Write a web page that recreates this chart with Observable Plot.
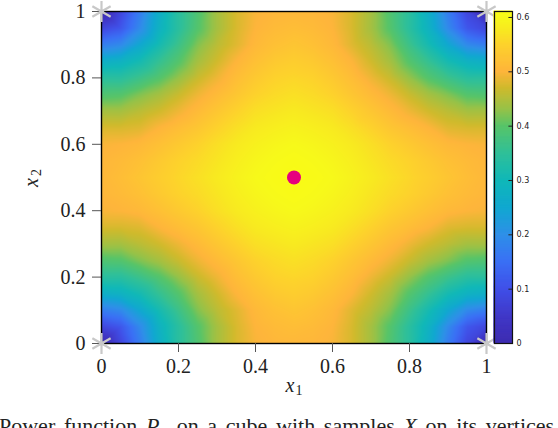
<!DOCTYPE html>
<html>
<head>
<meta charset="utf-8">
<script src="https://cdn.jsdelivr.net/npm/d3@7"></script>
<script src="https://cdn.jsdelivr.net/npm/@observablehq/plot@0.6"></script>
<style>
html,body{margin:0;padding:0;background:#fff;width:558px;height:428px;overflow:hidden}
#wrap{position:relative;width:558px;height:428px;overflow:hidden}
#main,#bar{position:absolute;left:0;top:0}
#caption{position:absolute;left:-1px;top:413px;width:570px;white-space:nowrap;font:22px "Liberation Serif",serif;color:#222;word-spacing:3.2px}
#caption sub{font-size:14px;line-height:0}
</style>
</head>
<body>
<div id="wrap">
<div id="main"></div>
<div id="bar"></div>
<div id="caption">Power function <i>P<sub>X</sub></i> on a cube with samples <i>X</i> on its vertices</div>
</div>
<script>
// Grid positions along each axis (one quadrant, the other three mirror it)
const gridPos = [0,0.05,0.1,0.15,0.2,0.25,0.3,0.35,0.4,0.45,0.5];
const q0  = [0,.08,.17,.27,.34,.39,.44,.475,.497,.503,.505];
const q1  = [.08,.11,.19,.28,.34,.395,.44,.475,.50,.51,.515];
const q2  = [.17,.19,.25,.31,.365,.42,.455,.48,.507,.52,.528];
const q3  = [.27,.28,.31,.355,.395,.44,.47,.50,.52,.535,.542];
const q4  = [.34,.34,.365,.395,.43,.465,.49,.515,.535,.55,.555];
const q5  = [.39,.395,.42,.44,.465,.49,.51,.53,.55,.56,.566];
const q6  = [.44,.44,.455,.47,.49,.51,.53,.55,.565,.572,.578];
const q7  = [.475,.475,.48,.50,.515,.53,.55,.565,.578,.585,.59];
const q8  = [.497,.50,.507,.52,.535,.55,.565,.578,.588,.595,.60];
const q9  = [.503,.51,.52,.535,.55,.56,.572,.585,.595,.602,.607];
const q10 = [.505,.515,.528,.542,.555,.566,.578,.59,.60,.607,.611];
const quadrant = [q0,q1,q2,q3,q4,q5,q6,q7,q8,q9,q10];

const samplesX1 = [0,1,0,1];
const samplesX2 = [0,0,1,1];
const centerX1 = [0.5];
const centerX2 = [0.5];
const axisTicks = [0,0.2,0.4,0.6,0.8,1];
const barTicks = [0,0.1,0.2,0.3,0.4,0.5,0.6];
const colorStops = [0,.05,.1,.15,.2,.25,.3,.35,.4,.43,.47,.5,.55,.575,.6,.611];
const colorRange = ["#3d2bb0","#4038c8","#4050e8","#3a70f5","#2e90e8","#10a8d0","#10b8b8","#30c098","#58c468","#96c248","#d0ba2c","#feb53b","#fdd22c","#f8e821","#f7f91a","#f9fb15"];

const grid = [];
quadrant.forEach((row,i)=>row.forEach((v,j)=>{
  for (const x of (i===10?[gridPos[i]]:[gridPos[i],1-gridPos[i]]))
    for (const y of (j===10?[gridPos[j]]:[gridPos[j],1-gridPos[j]]))
      grid.push({x,y,v});
}));

const colorScale = {type:"linear",domain:colorStops,range:colorRange,clamp:true};
const serif = '"Liberation Serif",serif';
const fmt = d=>String(d);

const main = Plot.plot({
  width:558,height:405,
  marginLeft:101,marginRight:72,marginTop:11,marginBottom:62,
  style:{background:"transparent",overflow:"visible",fontFamily:serif},
  x:{domain:[0,1]},y:{domain:[0,1]},color:colorScale,
  marks:[
    Plot.raster(grid,{x:"x",y:"y",fill:"v",interpolate:"barycentric",x1:0,x2:1,y1:0,y2:1,pixelSize:1}),
    Plot.frame({stroke:"#000",strokeWidth:1.4}),
    Plot.axisX({ticks:axisTicks,tickFormat:fmt,tickSize:9,tickPadding:6,fontSize:20,label:null,stroke:"#555",fill:"#222"}),
    Plot.axisY({ticks:axisTicks,tickFormat:fmt,tickSize:9,tickPadding:7,fontSize:20,label:null,stroke:"#555",fill:"#222"}),
    Plot.text(["x"],{x:[0.5],y:[0],dy:42,dx:-4,fontSize:20,fontStyle:"italic",fontFamily:serif,fill:"#222"}),
    Plot.text(["1"],{x:[0.5],y:[0],dy:47,dx:5,fontSize:14,fontFamily:serif,fill:"#222"}),
    Plot.text(["x"],{x:[0],y:[0.5],dx:-70,dy:5,rotate:-90,fontSize:20,fontStyle:"italic",fontFamily:serif,fill:"#222"}),
    Plot.text(["2"],{x:[0],y:[0.5],dx:-65,dy:-5,rotate:-90,fontSize:14,fontFamily:serif,fill:"#222"}),
    Plot.dot(samplesX1.map((x,i)=>({x,y:samplesX2[i]})),{x:"x",y:"y",r:10,symbol:"asterisk",stroke:"#c8c8c8",strokeWidth:2.2}),
    Plot.dot(centerX1.map((x,i)=>({x,y:centerX2[i]})),{x:"x",y:"y",r:7,fill:"#e6007e",stroke:"none"})
  ]
});
document.getElementById("main").append(main);

const barLevels = d3.range(0,0.611,0.002);
const bar = Plot.plot({
  width:558,height:405,
  marginLeft:494,marginRight:46,marginTop:11,marginBottom:62,
  style:{background:"transparent",overflow:"visible"},
  x:{domain:[0,1],axis:null},y:{domain:[0,0.611],axis:null},color:colorScale,
  marks:[
    Plot.rect(barLevels,{x1:0,x2:1,y1:d=>d,y2:d=>Math.min(d+0.002,0.611),fill:d=>d,stroke:d=>d,strokeWidth:1,inset:0}),
    Plot.frame({stroke:"#111",strokeWidth:1.2}),
    Plot.ruleY(barTicks.slice(1),{y:d=>d,x1:0.8,x2:1,stroke:"#222",strokeWidth:1}),
    Plot.text(barTicks,{y:d=>d,x:1,text:d=>String(d),dx:4,textAnchor:"start",fontSize:8,fontFamily:'"DejaVu Sans",sans-serif',fill:"#222"})
  ]
});
document.getElementById("bar").append(bar);
</script>
</body>
</html>
